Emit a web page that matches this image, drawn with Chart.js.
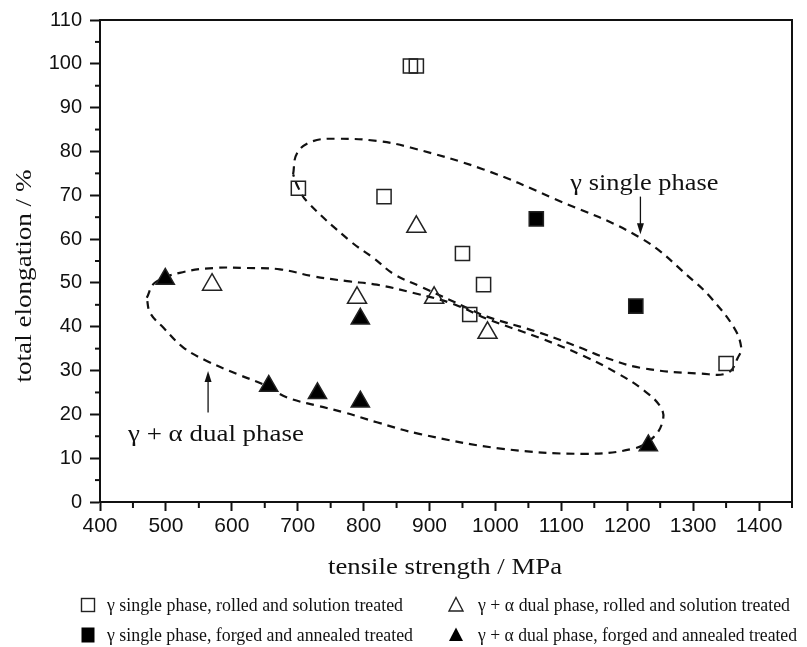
<!DOCTYPE html>
<html><head><meta charset="utf-8">
<script src="https://cdn.jsdelivr.net/npm/chart.js@4.4.0/dist/chart.umd.min.js"></script>
<style>html,body{margin:0;padding:0;background:#fff;}canvas{display:block;}</style>
</head><body>
<canvas id="c" width="807" height="647"></canvas>
<script>
// ---- data ----
const singleRolledX = [871, 880, 701, 831, 950, 982, 961, 1350];
const singleRolledY = [99.5, 99.5, 71.6, 69.7, 56.7, 49.6, 42.8, 31.6];
const dualRolledX = [570, 880, 790, 907, 988];
const dualRolledY = [49.6, 62.8, 46.6, 46.6, 38.6];
const singleForgedX = [1062, 1213];
const singleForgedY = [64.6, 44.7];
const dualForgedX = [499, 656, 730, 795, 795, 1232];
const dualForgedY = [50.9, 26.5, 24.8, 22.9, 41.8, 12.9];

// dashed envelopes
const upperEnvX = [693, 699, 722, 760, 820, 871, 982, 1088, 1221, 1301, 1327, 1362, 1373, 1368, 1353, 1312, 1221, 1160, 1134, 1068, 987, 957, 886, 846, 815, 780, 714, 700, 693];
const upperEnvY = [74.8, 79.6, 82.3, 82.9, 82.4, 80.9, 75.9, 69.3, 60.2, 50.4, 46.6, 39.8, 35.2, 33.0, 29.5, 29.3, 30.6, 33.3, 34.9, 38.6, 42.3, 44.3, 49.2, 52.0, 55.7, 59.5, 68.6, 72.0, 74.8];
const lowerEnvX = [471, 483, 521, 572, 623, 673, 724, 775, 820, 876, 936, 987, 1068, 1134, 1186, 1225, 1251, 1254, 1240, 1210, 1134, 1008, 886, 820, 769, 729, 683, 653, 608, 562, 527, 496, 476, 471];
const lowerEnvY = [46.6, 50.0, 52.3, 53.4, 53.4, 53.1, 51.5, 50.4, 49.6, 47.7, 45.2, 41.8, 37.4, 33.3, 29.3, 25.5, 21.6, 18.6, 14.8, 12.2, 11.0, 12.2, 15.5, 18.2, 20.5, 22.0, 23.9, 26.5, 29.2, 32.2, 35.2, 39.8, 43.2, 46.6];

const seriesLabels = [
  'γ single phase, rolled and solution treated',
  'γ single phase, forged and annealed treated',
  'γ + α dual phase, rolled and solution treated',
  'γ + α dual phase, forged and annealed treated'
];
const xTicks = [400, 500, 600, 700, 800, 900, 1000, 1100, 1200, 1300, 1400];
const yTicks = [0, 10, 20, 30, 40, 50, 60, 70, 80, 90, 100, 110];
const xMinorTicks = [450, 550, 650, 750, 850, 950, 1050, 1150, 1250, 1350, 1450];
const yMinorTicks = [5, 15, 25, 35, 45, 55, 65, 75, 85, 95, 105];
const xTitle = 'tensile strength / MPa';
const yTitle = 'total elongation / %';
const note1 = 'γ single phase';
const note2 = 'γ + α dual phase';

const zip = (xs, ys) => xs.map((x, i) => ({x, y: ys[i]}));
const INK = '#111';
const SERIF = '"Liberation Serif", "Times New Roman", serif';
const SANS = '"Liberation Sans", Arial, sans-serif';

function stretchText(ctx, text, x, y, size, family, width, align, rot) {
  ctx.save();
  ctx.font = size + 'px ' + family;
  const w = ctx.measureText(text).width;
  ctx.translate(x, y);
  if (rot) ctx.rotate(rot);
  ctx.scale(width / w, 1);
  ctx.textAlign = align;
  ctx.textBaseline = 'alphabetic';
  ctx.fillStyle = INK;
  ctx.fillText(text, 0, 0);
  ctx.restore();
}

function arrow(ctx, x, y0, y1) {
  const dir = y1 > y0 ? 1 : -1;
  ctx.save();
  ctx.strokeStyle = INK; ctx.fillStyle = INK; ctx.lineWidth = 1.3;
  ctx.beginPath(); ctx.moveTo(x, y0); ctx.lineTo(x, y1 - dir * 8); ctx.stroke();
  ctx.beginPath(); ctx.moveTo(x, y1); ctx.lineTo(x - 3.5, y1 - dir * 11); ctx.lineTo(x + 3.5, y1 - dir * 11); ctx.closePath(); ctx.fill();
  ctx.restore();
}

function marker(ctx, kind, cx, cy) {
  ctx.save();
  ctx.strokeStyle = '#222'; ctx.fillStyle = '#000'; ctx.lineWidth = 1.4;
  if (kind === 'openSq') { ctx.strokeRect(cx - 6.5, cy - 6.5, 13, 13); }
  else if (kind === 'fillSq') { ctx.fillRect(cx - 6.5, cy - 7.5, 13, 15); }
  else {
    ctx.beginPath(); ctx.moveTo(cx, cy - 7.5); ctx.lineTo(cx + 7, cy + 6); ctx.lineTo(cx - 7, cy + 6); ctx.closePath();
    if (kind === 'openTri') ctx.stroke(); else ctx.fill();
  }
  ctx.restore();
}

const decor = {
  id: 'decor',
  afterDraw(chart) {
    const ctx = chart.ctx, a = chart.chartArea;
    const xs = chart.scales.x, ys = chart.scales.y;
    ctx.save();
    ctx.strokeStyle = INK; ctx.lineWidth = 2;
    ctx.beginPath();
    ctx.moveTo(a.left - 1, a.top); ctx.lineTo(a.right, a.top); ctx.lineTo(a.right, a.bottom);
    ctx.stroke();
    xMinorTicks.forEach(v => { const p = xs.getPixelForValue(v); ctx.beginPath(); ctx.moveTo(p, a.bottom); ctx.lineTo(p, a.bottom + 6); ctx.stroke(); });
    yMinorTicks.forEach(v => { const p = ys.getPixelForValue(v); ctx.beginPath(); ctx.moveTo(a.left, p); ctx.lineTo(a.left - 5, p); ctx.stroke(); });
    ctx.restore();

    stretchText(ctx, xTitle, (a.left + a.right) / 2 - 1, a.bottom + 72, 23, SERIF, 234, 'center');
    stretchText(ctx, yTitle, 31, 276, 23, SERIF, 213, 'center', -Math.PI / 2);

    stretchText(ctx, note1, xs.getPixelForValue(1226), ys.getPixelForValue(71.3), 23, SERIF, 148, 'center');
    arrow(ctx, xs.getPixelForValue(1220), ys.getPixelForValue(69.7), ys.getPixelForValue(61.1));
    stretchText(ctx, note2, xs.getPixelForValue(576), ys.getPixelForValue(14.0), 23, SERIF, 176, 'center');
    arrow(ctx, xs.getPixelForValue(564), ys.getPixelForValue(20.4), ys.getPixelForValue(29.9));

    const rows = [605, 635];
    const items = [
      {k: 'openSq', mx: 88, tx: 107, y: rows[0], w: 296, t: seriesLabels[0]},
      {k: 'fillSq', mx: 88, tx: 107, y: rows[1], w: 306, t: seriesLabels[1]},
      {k: 'openTri', mx: 456, tx: 478, y: rows[0], w: 312, t: seriesLabels[2]},
      {k: 'fillTri', mx: 456, tx: 478, y: rows[1], w: 319, t: seriesLabels[3]}
    ];
    items.forEach(it => {
      marker(ctx, it.k, it.mx, it.y);
      stretchText(ctx, it.t, it.tx, it.y + 6, 19, SERIF, it.w, 'left');
    });
  }
};

const ptStyle = (style, fill, r) => ({
  pointStyle: style, pointRadius: r, pointHoverRadius: r,
  pointBackgroundColor: fill, backgroundColor: fill,
  pointBorderColor: '#222', borderColor: '#222', pointBorderWidth: 1.5, showLine: false
});

new Chart(document.getElementById('c'), {
  type: 'scatter',
  data: {
    datasets: [
      {label: 'upper envelope', data: zip(upperEnvX, upperEnvY), showLine: true, tension: 0.4,
        borderColor: INK, borderWidth: 2.2, borderDash: [8, 6], pointRadius: 0, fill: false, order: 10},
      {label: 'lower envelope', data: zip(lowerEnvX, lowerEnvY), showLine: true, tension: 0.4,
        borderColor: INK, borderWidth: 2.2, borderDash: [8, 6], pointRadius: 0, fill: false, order: 10},
      Object.assign({label: seriesLabels[0], data: zip(singleRolledX, singleRolledY), order: 1}, ptStyle('rect', 'rgba(0,0,0,0)', 10)),
      Object.assign({label: seriesLabels[1], data: zip(singleForgedX, singleForgedY), order: 1}, ptStyle('rect', '#000', 10)),
      Object.assign({label: seriesLabels[2], data: zip(dualRolledX, dualRolledY), order: 1}, ptStyle('triangle', 'rgba(0,0,0,0)', 11)),
      Object.assign({label: seriesLabels[3], data: zip(dualForgedX, dualForgedY), order: 1}, ptStyle('triangle', '#000', 10.5))
    ]
  },
  options: {
    responsive: false, devicePixelRatio: 1, animation: false, events: [],
    layout: {padding: {top: 18, right: 15, left: 0, bottom: 0}},
    plugins: {legend: {display: false}, tooltip: {enabled: false}, title: {display: false}},
    scales: {
      x: {
        type: 'linear', min: 400, max: 1450,
        afterBuildTicks: s => { s.ticks = xTicks.map(v => ({value: v})); },
        afterFit: s => { s.height = 145; },
        ticks: {autoSkip: false, maxRotation: 0, padding: 3, color: INK, font: {family: SANS, size: 21},
          callback: v => String(v)},
        grid: {display: true, drawOnChartArea: false, drawTicks: true, tickLength: 9, tickWidth: 2, tickColor: INK},
        border: {display: true, width: 2, color: INK}
      },
      y: {
        type: 'linear', min: 0, max: 110,
        afterBuildTicks: s => { s.ticks = yTicks.map(v => ({value: v})); },
        afterFit: s => { s.width = 100; },
        ticks: {autoSkip: false, padding: 8, color: INK, font: {family: SANS, size: 20},
          callback: v => String(v)},
        grid: {display: true, drawOnChartArea: false, drawTicks: true, tickLength: 10, tickWidth: 2, tickColor: INK},
        border: {display: true, width: 2, color: INK}
      }
    }
  },
  plugins: [decor]
});
</script>
</body></html>
